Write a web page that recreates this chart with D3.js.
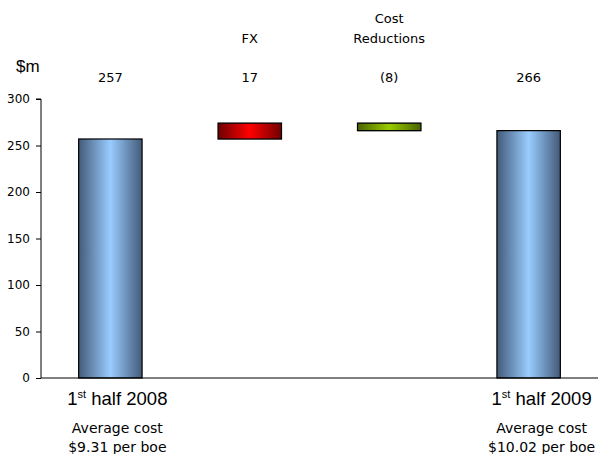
<!DOCTYPE html>
<html>
<head>
<meta charset="utf-8">
<script src="https://d3js.org/d3.v7.min.js"></script>
<style>
  body { margin: 0; background: #fff; }
  svg text { fill: #000; }
</style>
</head>
<body>
<div id="chart"></div>
<script>
// chart data
const categories = ['1st half 2008', 'FX', 'Cost Reductions', '1st half 2009'];
const steps = [257, 17, -8, 266];          // totals and changes
const isTotal = [true, false, false, true];
const valueLabels = ['257', '17', '(8)', '266'];
const headerLines = [[], ['FX'], ['Cost', 'Reductions'], []];
const yTicks = [0, 50, 100, 150, 200, 250, 300];
const footLines = [['Average cost', '$9.31 per boe'], [], [], ['Average cost', '$10.02 per boe']];

const width = 598, height = 454;
const margin = { top: 99, right: 0, bottom: 76, left: 41 };

const svg = d3.select('#chart').append('svg')
  .attr('width', width)
  .attr('height', height);

// running base for waterfall
let running = 0;
const bars = steps.map((v, i) => {
  let lo, hi;
  if (isTotal[i]) { lo = 0; hi = v; running = v; }
  else { lo = Math.min(running, running + v); hi = Math.max(running, running + v); running += v; }
  return { cat: categories[i], lo, hi, i };
});

const x = d3.scaleBand()
  .domain(categories)
  .range([margin.left, width - margin.right])
  .paddingInner(0.545)
  .paddingOuter(0.27);

const y = d3.scaleLinear()
  .domain([0, 300])
  .range([height - margin.bottom, margin.top]);

// gradients
const defs = svg.append('defs');
const grads = {
  blue: ['#435a78', '#99ccff', '#435a78'],
  red: ['#6e0000', '#ff0000', '#6e0000'],
  green: ['#4a6300', '#99cc00', '#4a6300']
};
Object.entries(grads).forEach(([name, stops]) => {
  const g = defs.append('linearGradient').attr('id', 'g-' + name)
    .attr('x1', '0%').attr('x2', '100%').attr('y1', '0%').attr('y2', '0%');
  g.append('stop').attr('offset', '0%').attr('stop-color', stops[0]);
  g.append('stop').attr('offset', '50%').attr('stop-color', stops[1]);
  g.append('stop').attr('offset', '100%').attr('stop-color', stops[2]);
});
const fillFor = i => isTotal[i] ? 'url(#g-blue)' : (steps[i] > 0 ? 'url(#g-red)' : 'url(#g-green)');

// bars (with a faint grey shadow)
svg.append('g').selectAll('rect.shadow')
  .data(bars.filter(d => !isTotal[d.i]))
  .enter().append('rect')
  .attr('x', d => x(d.cat) - 0.5)
  .attr('y', d => y(d.hi) - 1)
  .attr('width', x.bandwidth() + 1)
  .attr('height', d => y(d.lo) - y(d.hi) + 2)
  .attr('fill', '#bbb');

svg.append('g').selectAll('rect.bar')
  .data(bars)
  .enter().append('rect')
  .attr('x', d => x(d.cat))
  .attr('y', d => y(d.hi))
  .attr('width', x.bandwidth())
  .attr('height', d => y(d.lo) - y(d.hi))
  .attr('fill', d => fillFor(d.i))
  .attr('stroke', '#000')
  .attr('stroke-width', 1.2);

// y axis
const yAxis = d3.axisLeft(y).tickValues(yTicks).tickSize(5).tickPadding(6);
const ya = svg.append('g')
  .attr('transform', `translate(${margin.left},0)`)
  .call(yAxis);
ya.select('.domain').attr('stroke', '#000').attr('d', `M-5,${y(300)}H0V${y(0)}`);
ya.selectAll('.tick line').attr('stroke', '#000');
ya.selectAll('.tick text')
  .attr('font-family', 'DejaVu Sans, sans-serif')
  .attr('font-size', 12)
  .attr('fill', '#000');

// x axis line
svg.append('line')
  .attr('x1', margin.left).attr('x2', width)
  .attr('y1', y(0)).attr('y2', y(0))
  .attr('stroke', '#000').attr('stroke-width', 1.2);

// unit label
svg.append('text')
  .attr('x', 16).attr('y', 72)
  .attr('font-family', 'Liberation Sans, Arial, sans-serif')
  .attr('font-size', 17)
  .text('$m');

const cx = c => x(c) + x.bandwidth() / 2;

// value labels
svg.append('g').selectAll('text')
  .data(categories)
  .enter().append('text')
  .attr('x', d => cx(d))
  .attr('y', 82)
  .attr('text-anchor', 'middle')
  .attr('font-family', 'DejaVu Sans, sans-serif')
  .attr('font-size', 13)
  .text((d, i) => valueLabels[i]);

// header labels
categories.forEach((c, i) => {
  const lines = headerLines[i];
  lines.forEach((t, k) => {
    svg.append('text')
      .attr('x', cx(c))
      .attr('y', 43 - (lines.length - 1 - k) * 20)
      .attr('text-anchor', 'middle')
      .attr('font-family', 'DejaVu Sans, sans-serif')
      .attr('font-size', 13)
      .text(t);
  });
});

// bottom category labels for totals
const shift = [7, 0, 0, 13];
categories.forEach((c, i) => {
  if (!isTotal[i]) return;
  const m = c.match(/^(\d+)(st)(.*)$/);
  const t = svg.append('text')
    .attr('x', cx(c) + shift[i])
    .attr('y', 405)
    .attr('text-anchor', 'middle')
    .attr('font-family', 'Liberation Sans, Arial, sans-serif')
    .attr('font-size', 18.5);
  t.append('tspan').text(m[1]);
  t.append('tspan').attr('font-size', 11).attr('dy', -7).text(m[2]);
  t.append('tspan').attr('dy', 7).text(m[3]);
  footLines[i].forEach((f, k) => {
    svg.append('text')
      .attr('x', cx(c) + shift[i])
      .attr('y', 433 + k * 19)
      .attr('text-anchor', 'middle')
      .attr('font-family', 'DejaVu Sans, sans-serif')
      .attr('font-size', 14)
      .text(f);
  });
});
</script>
</body>
</html>
